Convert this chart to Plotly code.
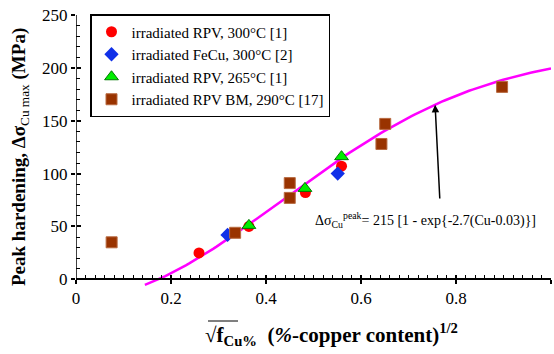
import numpy as np
import plotly.graph_objects as go

# ---- data ----
rpv300_x = [0.259, 0.364, 0.483, 0.559]
rpv300_y = [25, 50, 82, 107]

fecu300_x = [0.319, 0.551]
fecu300_y = [42, 100]

rpv265_x = [0.364, 0.482, 0.559]
rpv265_y = [51, 86, 116]

rpvbm_x = [0.075, 0.335, 0.450, 0.450, 0.651, 0.643, 0.897]
rpvbm_y = [35, 44, 91, 77, 147, 128, 182]

# fit curve parameters stated on the chart: 215 [1 - exp{-2.7(Cu-0.03)}], x = sqrt(Cu)
fit_a, fit_b, fit_c = 215.0, 2.7, 0.03
fit_x = np.linspace(0.145, 1.0, 120)
fit_y = fit_a * (1 - np.exp(-fit_b * (fit_x ** 2 - fit_c)))

x_major = [0, 0.2, 0.4, 0.6, 0.8, 1.0]
x_labels = ["0", "0.2", "0.4", "0.6", "0.8", "1"]
y_major = [0, 50, 100, 150, 200, 250]
y_labels = ["0", "50", "100", "150", "200", "250"]

FONT = "Liberation Serif"
YMIN = -12
W, H = 554, 354
ML, MR, MT, MB = 76, 3, 15, 62
PW, PH = W - ML - MR, H - MT - MB


def px2paper(px, py):
    return (px - ML) / PW, (H - MB - py) / PH


fig = go.Figure()
fig.add_trace(go.Scatter(x=fit_x, y=fit_y, mode="lines",
                         line=dict(color="#ff00ff", width=2.5), showlegend=False))
fig.add_trace(go.Scatter(x=rpv300_x, y=rpv300_y, mode="markers",
                         name="irradiated RPV, 300°C [1]",
                         marker=dict(symbol="circle", size=11, color="#ff0000")))
fig.add_trace(go.Scatter(x=fecu300_x, y=fecu300_y, mode="markers",
                         name="irradiated FeCu, 300°C [2]",
                         marker=dict(symbol="diamond", size=11, color="#1030e8")))
fig.add_trace(go.Scatter(x=rpv265_x, y=rpv265_y, mode="markers",
                         name="irradiated RPV, 265°C [1]",
                         marker=dict(symbol="triangle-up", size=12, color="#00ee00",
                                     line=dict(color="#007700", width=1))))
fig.add_trace(go.Scatter(x=rpvbm_x, y=rpvbm_y, mode="markers",
                         name="irradiated RPV BM, 290°C [17]",
                         marker=dict(symbol="square", size=11, color="#993300",
                                     line=dict(color="#b86a40", width=1))))
# dummy trace on overlay axes
fig.add_trace(go.Scatter(x=[None], y=[None], xaxis="x2", yaxis="y2", showlegend=False))

pos = (0 - YMIN) / (250 - YMIN)
tf = dict(family=FONT, size=17, color="black")

fig.update_layout(
    width=W, height=H,
    margin=dict(l=ML, r=MR, t=MT, b=MB),
    paper_bgcolor="white", plot_bgcolor="white",
    font=dict(family=FONT, size=16, color="black"),
    xaxis=dict(range=[0, 1], anchor="free", position=pos,
               showgrid=False, zeroline=False, showline=True, linecolor="black", linewidth=1.5,
               tickmode="array", tickvals=x_major, ticktext=x_labels,
               ticks="outside", ticklen=4, tickwidth=1.5, tickcolor="black",
               minor=dict(ticks="inside", ticklen=4, tickwidth=1, tickcolor="black",
                          tickmode="array",
                          tickvals=[round(i * 0.02, 2) for i in range(51) if i % 10]),
               tickfont=tf),
    xaxis2=dict(range=[0, 1], overlaying="x", anchor="free", position=pos, side="bottom",
                showgrid=False, zeroline=False, showline=False, showticklabels=False,
                tickmode="array", tickvals=x_major,
                ticks="inside", ticklen=4, tickwidth=1.5, tickcolor="black"),
    yaxis=dict(range=[YMIN, 250], showgrid=False, zeroline=False, showline=False,
               tickmode="array", tickvals=y_major, ticktext=y_labels,
               ticks="outside", ticklen=4, tickwidth=1.5, tickcolor="black",
               minor=dict(ticks="inside", ticklen=4, tickwidth=1, tickcolor="black",
                          tickmode="array", tickvals=[v for v in range(10, 250, 10) if v % 50]),
               tickfont=tf),
    yaxis2=dict(range=[YMIN, 250], overlaying="y", anchor="free", position=0, side="left",
                showgrid=False, zeroline=False, showline=False, showticklabels=False,
                tickmode="array", tickvals=y_major,
                ticks="inside", ticklen=4, tickwidth=1.5, tickcolor="black"),
    legend=dict(x=px2paper(90, 0)[0], y=px2paper(0, 14)[1], xanchor="left", yanchor="top",
                bgcolor="white", bordercolor="black", borderwidth=1.5,
                font=dict(family=FONT, size=15, color="black"),
                tracegroupgap=0, itemwidth=30),
    showlegend=True,
)

# y axis line from 0 to 250
fig.add_shape(type="line", xref="x", yref="y", x0=0, x1=0, y0=0, y1=250,
              line=dict(color="black", width=1.5))

# axis titles
tx, ty = px2paper(20, 157)
fig.add_annotation(xref="paper", yref="paper", x=tx, y=ty, xanchor="center", yanchor="middle",
                   text="<b>Peak hardening, Δσ</b><sub>Cu max</sub><b> (MPa)</b>",
                   textangle=-90, showarrow=False, font=dict(family=FONT, size=19))
bx, by = px2paper(331, 334)
fig.add_annotation(xref="paper", yref="paper", x=bx, y=by, xanchor="center", yanchor="middle",
                   text="<b>√f<sub>Cu%</sub>  (<i>%</i>-copper content)<sup>1/2</sup></b>",
                   showarrow=False, font=dict(family=FONT, size=21))
# overline of the square-root sign
ox0, oy = px2paper(208, 321)
ox1, _ = px2paper(238, 321)
fig.add_shape(type="line", xref="paper", yref="paper", x0=ox0, x1=ox1, y0=oy, y1=oy,
              line=dict(color="black", width=1))

# formula annotation and arrow
fig.add_annotation(xref="x", yref="y", x=0.735, y=56,
                   text="Δσ<sub>Cu</sub><sup>peak</sup>= 215 [1 - exp{-2.7(Cu-0.03)}]",
                   showarrow=False, font=dict(family=FONT, size=14))
fig.add_annotation(xref="x", yref="y", axref="x", ayref="y",
                   x=0.756, y=165, ax=0.766, ay=75, text="",
                   showarrow=True, arrowhead=2, arrowsize=1, arrowwidth=1.5, arrowcolor="black")

fig.write_html("out.html")
